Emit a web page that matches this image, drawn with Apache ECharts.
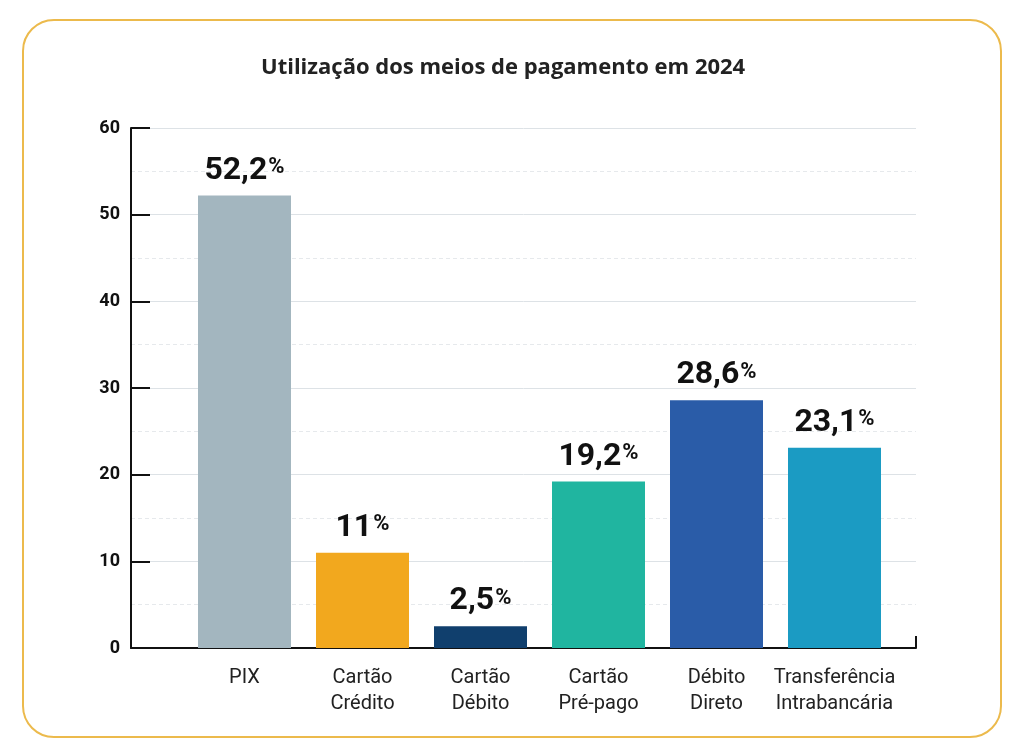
<!DOCTYPE html>
<html>
<head>
<meta charset="utf-8">
<script src="https://cdn.jsdelivr.net/npm/echarts@6/dist/echarts.min.js"></script>
<style>
  html, body { margin: 0; padding: 0; background: #fff; }
  #frame {
    position: absolute; left: 22px; top: 19px; width: 976px; height: 715px;
    border: 2px solid #ecba4c; border-radius: 32px;
  }
  #chart { position: absolute; left: 0; top: 0; width: 1024px; height: 752px; }
</style>
</head>
<body>
<div id="frame"></div>
<div id="chart"></div>
<script>
var categories = ['PIX', 'Cartão\nCrédito', 'Cartão\nDébito', 'Cartão\nPré-pago', 'Débito\nDireto', 'Transferência\nIntrabancária'];
var values = [52.2, 11, 2.5, 19.2, 28.6, 23.1];
var barColors = ['#a3b6bf', '#f2a81e', '#103f6d', '#20b5a0', '#2a5ca8', '#1b9bc3'];
var yTicks = [0, 10, 20, 30, 40, 50, 60];

var chart = echarts.init(document.getElementById('chart'));

var option = {
    backgroundColor: 'transparent',
    animation: false,
    title: {
        text: 'Utilização dos meios de pagamento em 2024',
        left: 256,
        top: 52,
        textStyle: {
            fontFamily: 'Open Sans',
            fontWeight: 'bold',
            fontSize: 22,
            color: '#222'
        }
    },
    grid: [
        // frame + gridlines
        {left: 131, right: 108, top: 128, bottom: 104},
        // bars
        {left: 185.5, right: 130.5, top: 128, bottom: 104}
    ],
    xAxis: [
        {
            gridIndex: 0,
            type: 'value',
            min: 0, max: 1, interval: 1,
            axisLine: {show: true, lineStyle: {color: '#111', width: 2}},
            axisTick: {show: true, inside: true, length: 12, lineStyle: {color: '#111', width: 2}},
            axisLabel: {show: false},
            splitLine: {show: false}
        },
        {
            gridIndex: 1,
            type: 'category',
            data: categories,
            axisLine: {show: false},
            axisTick: {show: false},
            axisLabel: {
                margin: 17,
                fontFamily: 'Roboto',
                fontSize: 20,
                lineHeight: 26,
                color: '#222',
                interval: 0
            }
        }
    ],
    yAxis: [
        {
            gridIndex: 0,
            type: 'value',
            min: yTicks[0],
            max: yTicks[yTicks.length - 1],
            interval: 10,
            axisLine: {show: true, lineStyle: {color: '#111', width: 2}},
            axisTick: {show: true, inside: true, length: 19, lineStyle: {color: '#111', width: 2}},
            axisLabel: {
                margin: 11,
                fontFamily: 'Roboto',
                fontWeight: 'bold',
                fontSize: 18,
                color: '#111'
            },
            splitLine: {show: true, lineStyle: {color: '#dde2e6', width: 1}},
            minorTick: {show: false, splitNumber: 2},
            minorSplitLine: {show: true, lineStyle: {color: '#e6e9ec', width: 1, type: [4, 3]}}
        },
        {
            gridIndex: 1,
            type: 'value',
            min: yTicks[0],
            max: yTicks[yTicks.length - 1],
            show: false,
            splitLine: {show: false}
        }
    ],
    series: [{
        type: 'bar',
        xAxisIndex: 1,
        yAxisIndex: 1,
        barWidth: 93,
        data: values.map(function (v, i) {
            return {value: v, itemStyle: {color: barColors[i]}};
        }),
        label: {
            show: true,
            position: 'top',
            distance: 9,
            formatter: function (p) {
                return '{n|' + String(p.value).replace('.', ',') + '}{p|%}';
            },
            rich: {
                n: {
                    fontFamily: 'Roboto',
                    fontWeight: 'bold',
                    fontSize: 32,
                    color: '#111'
                },
                p: {
                    fontFamily: 'Roboto',
                    fontWeight: 'bold',
                    fontSize: 22,
                    color: '#111',
                    padding: [0, 0, 6, 1]
                }
            }
        }
    }]
};

chart.setOption(option);
</script>
</body>
</html>
